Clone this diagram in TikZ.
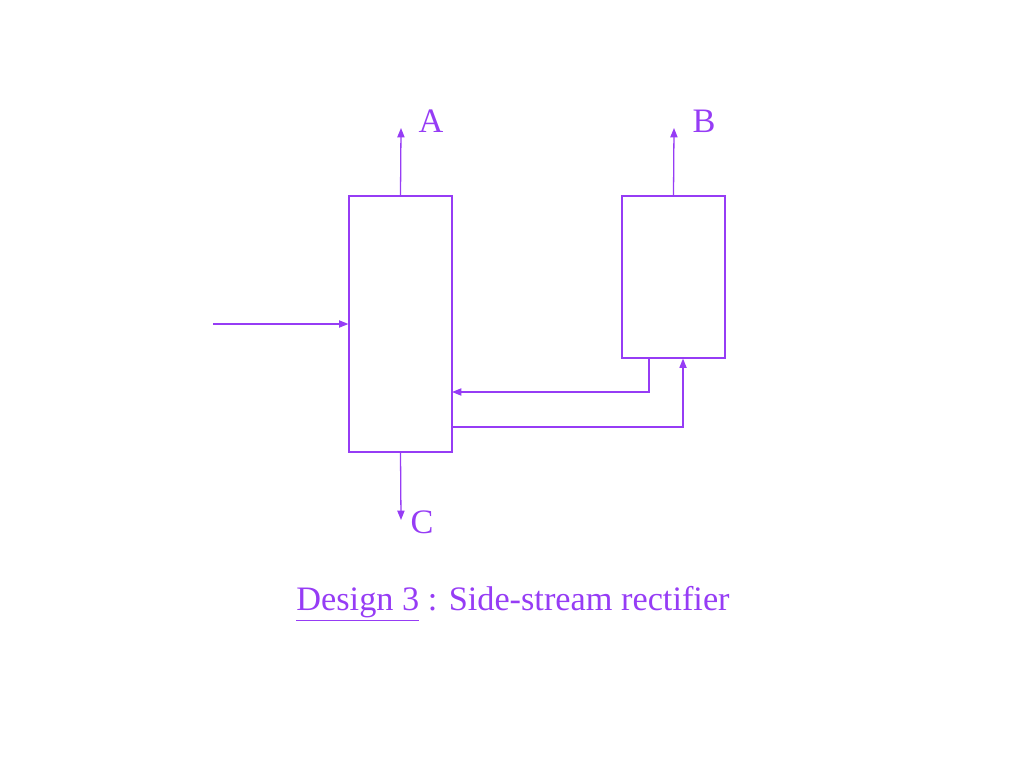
\documentclass[tikz,border=0pt]{standalone}
\usepackage{fontspec}
\setmainfont{Liberation Serif}
\usetikzlibrary{arrows.meta,calc}
\definecolor{streamviolet}{RGB}{150,60,245}

\begin{document}
\begin{tikzpicture}[x=0.7pt,y=-0.7pt,
                column/.style={draw=streamviolet,line width=0.8pt,minimum width=72.1pt,inner sep=0pt},
                flow/.style={draw=streamviolet,line width=0.9pt,-{Triangle[length=6.5pt,width=5pt]}},
                stream/.style={text=streamviolet,font=\fontsize{24}{28}\selectfont,inner sep=0pt}]
                \useasboundingbox (0,0) rectangle (1024,768);

                \node[column,minimum height=179.2pt] (col) at (400.5,324) {};
                \node[column,minimum height=113.4pt] (strip) at (673.5,277) {};

                \coordinate (feed) at (213,324);
                \coordinate (topA) at (401,128);
                \coordinate (topB) at (674,128);
                \coordinate (botC) at (401,520);
                \coordinate (draw) at (452,427);
                \coordinate (ret) at (452,392);

                \node[stream] (lblA) at (431,121) {A};
                \node[stream] (lblB) at (704,121) {B};
                \node[stream] (lblC) at (422,522) {C};

                \draw[flow] (feed) -- (col.west);
                \draw[flow] (col.north) -- (topA);
                \draw[flow] (strip.north) -- (topB);
                \draw[flow] (col.south) -- (botC);
                \draw[flow] (draw) -| ($(strip.south)+(9.5,0)$);
                \draw[flow] ($(strip.south)+(-24.5,0)$) |- (ret);

                \node[stream] (caption) at (513,604) {\underline{Design 3} : Side-stream rectifier};
            \end{tikzpicture}
\end{document}
